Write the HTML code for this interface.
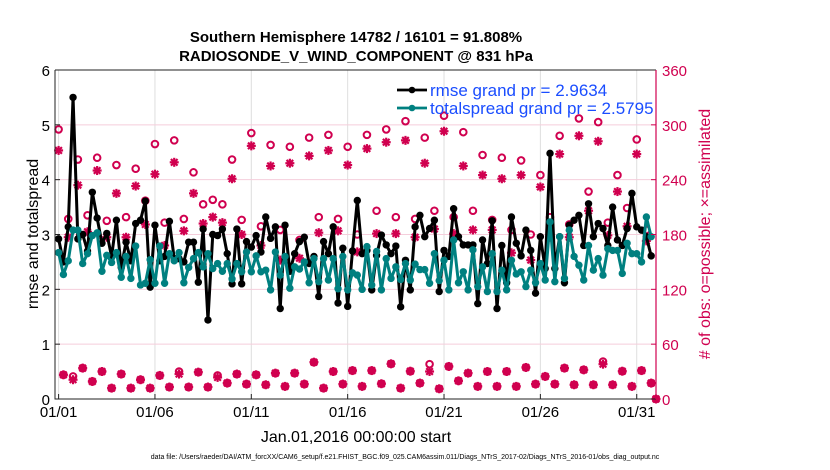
<!DOCTYPE html>
<html><head><meta charset="utf-8"><style>
html,body{margin:0;padding:0;background:#fff;}
svg{display:block;font-family:"Liberation Sans",sans-serif;}
</style></head><body>
<svg id="chart" width="830" height="470" viewBox="0 0 830 470">
<text x="356" y="42" text-anchor="middle" font-size="15" font-weight="bold">Southern Hemisphere 14782 / 16101 = 91.808%</text>
<text x="356" y="61" text-anchor="middle" font-size="15" font-weight="bold">RADIOSONDE_V_WIND_COMPONENT @ 831 hPa</text>
<g id="grid"></g>
<g id="obs"></g>
<g id="lines"></g>
<g id="axes"></g>
<text transform="translate(38,234) rotate(-90)" text-anchor="middle" font-size="16">rmse and totalspread</text>
<text transform="translate(710,234) rotate(-90)" text-anchor="middle" font-size="16" fill="#d0004f"># of obs: o=possible; ×=assimilated</text>
<text x="356" y="442" text-anchor="middle" font-size="16">Jan.01,2016 00:00:00 start</text>
<text x="405" y="459" text-anchor="middle" font-size="7">data file: /Users/raeder/DAI/ATM_forcXX/CAM6_setup/f.e21.FHIST_BGC.f09_025.CAM6assim.011/Diags_NTrS_2017-02/Diags_NTrS_2016-01/obs_diag_output.nc</text>
<g id="legend">
<line x1="397" y1="90" x2="427" y2="90" stroke="#000" stroke-width="2.8"/>
<circle cx="412" cy="90" r="3.3" fill="#000"/>
<text x="430" y="96" font-size="17" fill="#1a4dff">rmse grand pr = 2.9634</text>
<line x1="397" y1="108" x2="427" y2="108" stroke="#008080" stroke-width="2.8"/>
<circle cx="412" cy="108" r="3.3" fill="#008080"/>
<text x="430" y="114" font-size="17" fill="#1a4dff">totalspread grand pr = 2.5795</text>
</g>
</svg>
<script>
const xTickLabels = ["01/01","01/06","01/11","01/16","01/21","01/26","01/31"];
const xTickDays = [0,5,10,15,20,25,30];
const yTicks = [0,1,2,3,4,5,6];
const rTicks = [0,60,120,180,240,300,360];
const rmse = [2.92,2.5,3.14,5.5,2.92,3.0,2.7,3.77,3.3,2.84,3.02,2.6,3.26,2.4,2.86,2.52,3.2,3.26,3.61,2.04,3.17,2.52,2.6,3.24,2.56,2.56,2.5,2.86,2.86,2.13,3.1,
1.44,3.0,2.98,3.1,2.65,2.1,3.1,2.1,2.87,2.77,2.98,2.68,3.32,2.93,3.14,1.65,3.17,2.33,2.65,2.87,2.95,2.47,2.6,1.87,2.87,2.65,3.14,1.75,2.75,1.69,2.7,
3.62,2.65,2.71,1.99,2.62,2.99,2.81,2.65,2.79,1.68,2.53,1.99,3.14,3.35,2.96,3.11,3.26,1.96,2.71,2.6,3.47,2.96,2.81,2.81,2.81,1.74,2.9,2.47,3.25,1.65,
2.8,2.12,3.32,2.84,2.61,3.08,2.71,1.93,2.96,2.38,4.48,2.38,2.96,2.12,3.17,3.26,3.35,2.8,3.56,2.96,3.2,3.11,2.8,3.5,2.9,2.8,3.11,3.75,3.14,3.08,2.96,2.61];
const spread = [2.67,2.27,2.52,3.08,3.08,2.47,2.65,2.98,3.03,2.33,2.62,2.49,2.67,2.22,2.6,2.2,2.79,2.08,2.11,2.54,2.11,2.79,2.11,2.65,2.52,2.67,2.12,2.4,2.56,2.67,
2.41,2.65,2.38,2.47,2.33,2.47,2.19,2.47,2.32,2.68,2.32,2.61,2.32,2.35,1.99,2.68,2.26,2.6,2.02,2.41,2.37,2.5,2.12,2.56,2.14,2.56,2.17,2.56,2.01,2.6,1.99,2.3,
2.26,2.0,2.78,2.08,2.69,1.99,2.56,2.2,2.41,2.18,2.47,2.17,2.46,2.36,2.36,2.11,2.65,2.16,2.53,1.99,2.9,2.12,2.32,1.99,2.72,2.05,2.41,1.96,2.65,1.96,
2.35,1.99,2.53,2.28,2.32,2.05,2.35,2.12,2.47,2.17,3.23,2.14,2.96,2.2,3.08,2.6,2.44,2.17,2.8,2.35,2.56,2.26,2.74,2.71,2.71,2.29,2.84,2.65,2.65,2.5,3.32,2.96];
const possUpper = [295,197,262,201,264,195,256,199,252,217,279,193,283,197,248,213,218,213,262,196,291,189,278,185,276,174,286,199,289,197,276,180,289,206,295,199,304,197,286,206,310,199,292,206,267,196,264,185,261,180,245,199,288,191,307,227,303,193,245,209,284,185,0];
const assimUpper = [272,177,234,183,250,177,225,177,233,191,246,168,259,184,225,192,199,193,241,180,277,168,255,152,258,154,266,182,272,184,256,161,274,181,281,181,283,177,258,186,293,181,255,185,245,185,241,160,245,152,232,177,268,177,288,206,282,179,227,189,268,173,0];
const possLower = [26.5,24.7,33.8,19.2,30.1,11.9,27.3,11.9,21.1,11.9,25.8,13.1,30.1,13.1,29.4,13.1,25.8,17.4,27.3,16.3,26.5,15.6,28.3,13.8,28.3,16.3,40.3,11.9,30.1,16.3,31.1,13.8,31.1,16.7,38.5,11.9,30.4,17.4,38.1,11.2,35.6,19.9,28.3,13.8,30.1,13.8,30.1,13.8,34.5,16.3,24.7,16.3,33.8,15.6,31.9,15.6,41,15.6,30.4,13.8,31.1,17.4];
const assimLower = [26.5,21.1,33.8,19.2,30.1,11.9,27.3,11.9,21.1,11.9,25.8,13.1,27.3,13.1,29.4,13.1,23.6,17.4,27.3,16.3,26.5,15.6,28.3,13.8,28.3,16.3,40.3,11.9,30.1,16.3,31.1,13.8,31.1,16.7,38.5,11.9,30.4,17.4,30.1,11.2,35.6,19.9,28.3,13.8,30.1,13.8,30.1,13.8,34.5,16.3,24.7,16.3,33.8,15.6,31.9,15.6,38.1,15.6,30.4,13.8,31.1,17.4];

const NS="http://www.w3.org/2000/svg";
const L=55, R=656, T=70, B=399;
const x0=58.6, dx=(R-x0)/124;
function xs(i){return x0+dx*i;}
function xDay(d){return x0+dx*4*d;}
function yl(v){return B-(v/6)*(B-T);}
function yr(v){return B-(v/360)*(B-T);}
function mk(tag,attrs,parent){const e=document.createElementNS(NS,tag);for(const k in attrs)e.setAttribute(k,attrs[k]);parent.appendChild(e);return e;}
const grid=document.getElementById('grid'),axes=document.getElementById('axes'),obs=document.getElementById('obs'),lines=document.getElementById('lines');
const PINK="#d0004f";

xTickDays.forEach((d,j)=>{
  const x=xDay(d);
  const g=mk('line',{x1:x,y1:T,x2:x,y2:B,stroke:'#dedede','stroke-width':1},grid);
  
  
  const t=mk('line',{x1:x,y1:B,x2:x,y2:B-5,stroke:'#222','stroke-width':1},axes);
  
  
  const lb=mk('text',{x:x,y:417,'text-anchor':'middle','font-size':15},axes);
  lb.textContent=xTickLabels[j];
  
  
});
rTicks.forEach(v=>{
  const y=yr(v);
  if(v>0&&v<360){const g=mk('line',{x1:L,y1:y,x2:R,y2:y,stroke:'#f5cedb','stroke-width':1},grid);
  
  }
  const t=mk('line',{x1:R,y1:y,x2:R-5,y2:y,stroke:PINK,'stroke-width':1},axes);
  
  
  const lb=mk('text',{x:662,y:y+6,'font-size':15,fill:PINK},axes);
  lb.textContent=v;
  
  
});
yTicks.forEach(v=>{
  const y=yl(v);
  const t=mk('line',{x1:L,y1:y,x2:L+5,y2:y,stroke:'#222','stroke-width':1},axes);
  
  
  const lb=mk('text',{x:50,y:y+6,'text-anchor':'end','font-size':15},axes);
  lb.textContent=v;
  
  
});
const fr=mk('path',{d:`M${L},${T}H${R}M${L},${T}V${B}H${R}`,stroke:'#222',fill:'none','stroke-width':1},axes);


const ra=mk('line',{x1:R,y1:T,x2:R,y2:B,stroke:PINK,'stroke-width':1.2},axes);



function star(x,y){
  const g=mk('g',{stroke:PINK,'stroke-width':2.2},obs);
  
  
  const s=4.5,d=3.3;
  mk('line',{x1:x-s,y1:y,x2:x+s,y2:y},g);mk('line',{x1:x,y1:y-s,x2:x,y2:y+s},g);
  mk('line',{x1:x-d,y1:y-d,x2:x+d,y2:y+d},g);mk('line',{x1:x-d,y1:y+d,x2:x+d,y2:y-d},g);
}
function ring(x,y){
  const c=mk('circle',{cx:x,cy:y,r:3.3,fill:'none',stroke:PINK,'stroke-width':2},obs);
  
  
}
possUpper.forEach((v,t)=>ring(xs(2*t),yr(v)));
assimUpper.forEach((v,t)=>star(xs(2*t),yr(v)));
possLower.forEach((v,k)=>ring(xs(2*k+1),yr(v)));
assimLower.forEach((v,k)=>star(xs(2*k+1),yr(v)));

function series(vals,color,name){
  const p=mk('polyline',{points:vals.map((v,i)=>xs(i)+','+yl(v)).join(' '),fill:'none',stroke:color,'stroke-width':3,'stroke-linejoin':'round'},lines);
  
  
  vals.forEach((v,i)=>{
    const c=mk('circle',{cx:xs(i),cy:yl(v),r:3.7,fill:color},lines);
    
    
  });
}
series(rmse,'#000','rmse');
series(spread,'#008080','totalspread');
</script>
</body></html>
